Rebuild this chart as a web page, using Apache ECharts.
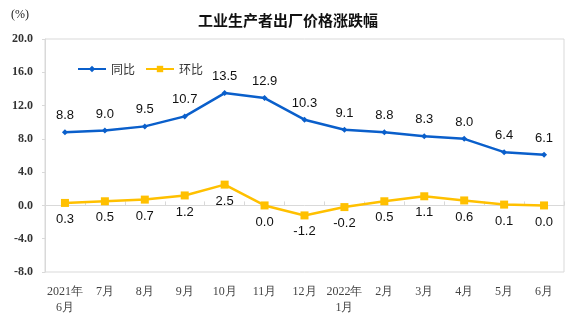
<!DOCTYPE html>
<html>
<head>
    <meta charset="utf-8">
    <title>PPI</title>
    <style type="text/css">
        html, body { margin: 0; padding: 0; width: 576px; height: 327px; background: #fff; }
        #main { width: 576px; height: 327px; }
    </style>
    <script src="https://cdn.jsdelivr.net/npm/echarts@6/dist/echarts.min.js"></script>
</head>
<body>
<div id="main"></div>
<script type="text/javascript">
    var months = ['2021年\n6月', '7月', '8月', '9月', '10月', '11月', '12月', '2022年\n1月', '2月', '3月', '4月', '5月', '6月'];
    var yoy = [8.8, 9.0, 9.5, 10.7, 13.5, 12.9, 10.3, 9.1, 8.8, 8.3, 8.0, 6.4, 6.1];
    var mom = [0.3, 0.5, 0.7, 1.2, 2.5, 0.0, -1.2, -0.2, 0.5, 1.1, 0.6, 0.1, 0.0];

    var myChart = echarts.init(document.getElementById('main'));

    var labelFont = { fontFamily: 'Liberation Sans', fontSize: 13, color: '#111' };

    option = {
        animation: false,
        title: {
            text: '工业生产者出厂价格涨跌幅',
            left: 'center',
            top: 8,
            textStyle: { fontFamily: 'Noto Sans CJK SC', fontSize: 15, fontWeight: 'bold', color: '#111' }
        },
        graphic: [{
            type: 'text', left: 11, top: 9,
            style: { text: '(%)', font: '12px "Liberation Serif"', fill: '#222' }
        }],
        legend: {
            left: 72, top: 58,
            itemWidth: 28, itemHeight: 8, itemGap: 10,
            textStyle: { fontFamily: 'Noto Sans CJK SC', fontSize: 12, color: '#333' },
            data: ['同比', '环比']
        },
        grid: { left: 45, right: 12, top: 39, bottom: 55, show: true, borderColor: '#d9d9d9', borderWidth: 1 },
        xAxis: {
            type: 'category',
            data: months,
            axisLine: { onZero: true, lineStyle: { color: '#d9d9d9' } },
            axisTick: { show: true, interval: 0, length: 4, inside: true, lineStyle: { color: '#d9d9d9' } },
            axisLabel: {
                interval: 0,
                fontFamily: 'Liberation Serif', fontSize: 12, color: '#444', lineHeight: 16,
                margin: 12
            }
        },
        yAxis: {
            type: 'value',
            min: -8, max: 20, interval: 4,
            axisLine: { show: true, lineStyle: { color: '#d9d9d9' } },
            axisTick: { show: true, inside: false, length: 3, lineStyle: { color: '#d9d9d9' } },
            splitLine: { show: false },
            axisLabel: {
                fontFamily: 'Liberation Serif', fontSize: 12, fontWeight: 'bold', color: '#333', margin: 12,
                formatter: function (v) { return v.toFixed(1); }
            }
        },
        series: [{
            name: '同比',
            type: 'line',
            data: yoy,
            symbol: 'diamond',
            symbolSize: 6,
            lineStyle: { color: '#0a5fcb', width: 2.5 },
            itemStyle: { color: '#0a5fcb' },
            label: Object.assign({ show: true, position: 'top', distance: 7, formatter: function (p) { return p.value.toFixed(1); } }, labelFont)
        }, {
            name: '环比',
            type: 'line',
            data: mom,
            symbol: 'rect',
            symbolSize: 8,
            lineStyle: { color: '#ffc000', width: 2.5 },
            itemStyle: { color: '#ffc000' },
            label: Object.assign({ show: true, position: 'bottom', distance: 6, formatter: function (p) { return p.value.toFixed(1); } }, labelFont)
        }]
    };

    myChart.setOption(option);
</script>
</body>
</html>
